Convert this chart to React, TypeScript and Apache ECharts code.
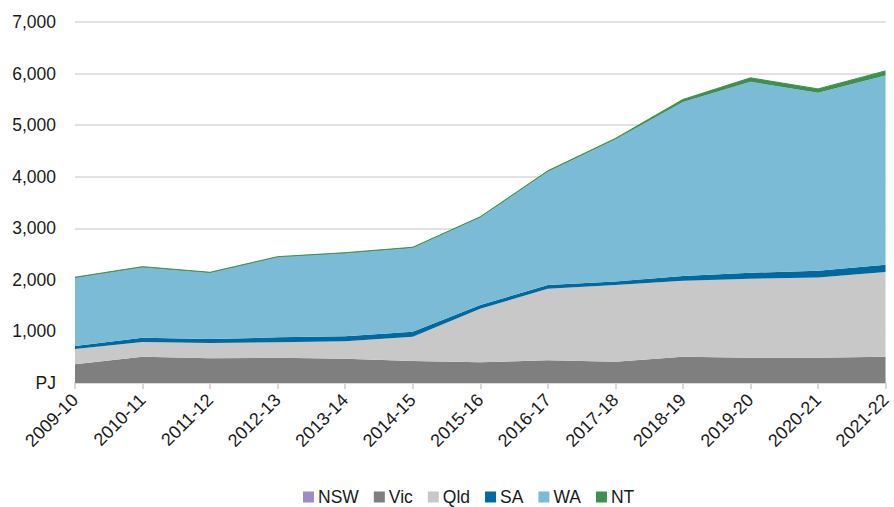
import React, { useEffect, useRef } from "react";
import * as echarts from "echarts";

const categories = [
  "2009-10", "2010-11", "2011-12", "2012-13", "2013-14", "2014-15", "2015-16",
  "2016-17", "2017-18", "2018-19", "2019-20", "2020-21", "2021-22",
];
const nsw = [0, 0, 0, 0, 0, 0, 0, 0, 0, 0, 0, 0, 0];
const vic = [362, 510, 478, 490, 471, 426, 401, 440, 413, 510, 490, 490, 510];
const qld = [297, 285, 297, 299, 337, 471, 1039, 1388, 1487, 1473, 1532, 1558, 1641];
const sa = [58, 83, 78, 96, 97, 97, 72, 71, 70, 91, 116, 129, 142];
const wa = [1320, 1364, 1280, 1551, 1608, 1624, 1696, 2197, 2750, 3377, 3701, 3449, 3670];
const nt = [14, 14, 14, 14, 14, 14, 15, 18, 22, 47, 78, 77, 89];
const yTicks = [0, 1000, 2000, 3000, 4000, 5000, 6000, 7000];

const names = ["NSW", "Vic", "Qld", "SA", "WA", "NT"];
const colors = ["#a08bc3", "#7f7f7f", "#c8c8c8", "#0069a0", "#7bbbd6", "#3f8f52"];
const seriesData = [nsw, vic, qld, sa, wa, nt];

const FONT = "'Liberation Sans', Arial, sans-serif";

export default function App() {
  const ref = useRef<HTMLDivElement>(null);
  useEffect(() => {
    if (!ref.current) return;
    const chart = echarts.init(ref.current, undefined, { renderer: "svg" });
    chart.setOption({
      animation: false,
      textStyle: { fontFamily: FONT },
      grid: { left: 75, right: 5, top: 22, bottom: 124, containLabel: false },
      legend: {
        data: names,
        left: 303,
        top: 487,
        padding: 0,
        itemWidth: 11,
        itemHeight: 11,
        itemGap: 15,
        icon: "rect",
        textStyle: { fontSize: 17.5, color: "#1a1a1a", fontFamily: FONT, lineHeight: 20, padding: [0, 0, 0, -1] },
      },
      xAxis: {
        type: "category",
        data: categories,
        boundaryGap: false,
        axisLine: { show: true, lineStyle: { color: "#d9d9d9", width: 2 } },
        axisTick: { show: true, length: 6, lineStyle: { color: "#d9d9d9", width: 2 } },
        axisLabel: { rotate: 45, fontSize: 18, color: "#1a1a1a", margin: 14, fontFamily: FONT },
        splitLine: { show: false },
      },
      yAxis: {
        type: "value",
        min: yTicks[0],
        max: yTicks[yTicks.length - 1],
        interval: 1000,
        axisLine: { show: false },
        axisTick: { show: false },
        axisLabel: {
          fontSize: 17.5,
          color: "#1a1a1a",
          margin: 19,
          fontFamily: FONT,
          formatter: (v: number) => (v === 0 ? "PJ" : v.toLocaleString("en-US")),
        },
        splitLine: { show: true, lineStyle: { color: "#d9d9d9", width: 1.5 } },
      },
      series: names.map((n, i) => ({
        name: n,
        type: "line",
        stack: "total",
        data: seriesData[i],
        showSymbol: false,
        symbol: "none",
        lineStyle: { width: n === "NT" ? 1 : 0, color: colors[i] },
        itemStyle: { color: colors[i] },
        areaStyle: { color: colors[i], opacity: 1 },
      })),
    });
    return () => chart.dispose();
  }, []);
  return <div ref={ref} style={{ width: 894, height: 507, position: "absolute", left: 0, top: 0 }} />;
}
